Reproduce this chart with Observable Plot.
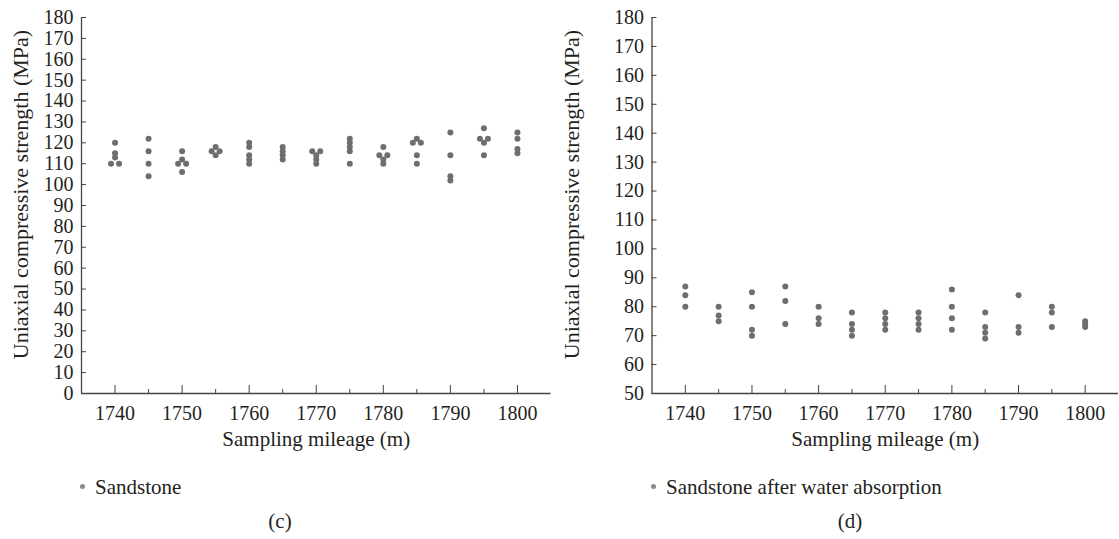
<!DOCTYPE html>
<html>
<head>
<meta charset="utf-8">
<script src="https://cdn.jsdelivr.net/npm/d3@7"></script>
<script src="https://cdn.jsdelivr.net/npm/@observablehq/plot@0.6"></script>
<style>
  html, body { margin: 0; padding: 0; background: #fff; }
  body { width: 1119px; height: 539px; overflow: hidden; font-family: "Liberation Serif", "DejaVu Serif", serif; color: #231f20; }
  #row { display: flex; }
  .panel { position: relative; }
  .legend { position: relative; height: 22px; line-height: 22px; margin-top: 18px; font-size: 21px; }
  .legend .swatch { position: absolute; top: 8px; width: 5px; height: 5px; border-radius: 50%; background: #8a8a8c; }
  .legend .label { position: absolute; top: 0; white-space: nowrap; }
  .caption { position: relative; height: 22px; line-height: 22px; margin-top: 12px; font-size: 21px; }
  .caption span { position: absolute; top: 0; transform: translateX(-50%); }
</style>
</head>
<body>
<div id="row">
  <div class="panel" id="panel-c"></div>
  <div class="panel" id="panel-d"></div>
</div>
<script>
// Sampling positions along the tunnel (m)
const mileage = [1740, 1745, 1750, 1755, 1760, 1765, 1770, 1775, 1780, 1785, 1790, 1795, 1800];

// Uniaxial compressive strength of dry sandstone samples (MPa), one list per mileage
const sandstone = [
  [120, 115, 113, 110, 110],
  [122, 116, 110, 104],
  [116, 112, 110, 110, 106],
  [118, 116, 116, 114],
  [120, 118, 114, 112, 110],
  [118, 116, 114, 112],
  [116, 116, 114, 112, 110],
  [122, 120, 118, 116, 110],
  [118, 114, 114, 112, 110],
  [122, 120, 120, 114, 110],
  [125, 114, 104, 102],
  [127, 122, 122, 120, 114],
  [125, 122, 117, 115]
];

// Uniaxial compressive strength after water absorption (MPa)
const soaked = [
  [87, 84, 80],
  [80, 77, 75],
  [85, 80, 72, 70],
  [87, 82, 74],
  [80, 76, 74],
  [78, 74, 72, 70],
  [78, 76, 74, 72],
  [78, 76, 74, 72],
  [86, 80, 76, 72],
  [78, 73, 71, 69],
  [84, 73, 71],
  [80, 78, 73],
  [75, 74, 73]
];

const xMajor = [1740, 1750, 1760, 1770, 1780, 1790, 1800];
const xMinor = [1745, 1755, 1765, 1775, 1785, 1795];
const yTicksC = d3.range(0, 181, 10);
const yTicksD = d3.range(50, 181, 10);

const xDomain = [1735, 1805];
const dotColor = "#6d6e71";
const inkColor = "#231f20";

// Flatten the per-mileage lists; repeated values in a group are spread
// side by side (centred on the mileage) so every sample stays visible.
function toRows(groups, pxPerUnit) {
  const rows = [];
  const gap = 8 / pxPerUnit;
  groups.forEach((vals, gi) => {
    const counts = d3.rollup(vals, v => v.length, v => v);
    const seen = new Map();
    for (const v of vals) {
      const n = counts.get(v);
      const k = seen.get(v) ?? 0;
      seen.set(v, k + 1);
      rows.push({mileage: mileage[gi], x: mileage[gi] + (k - (n - 1) / 2) * gap, value: v});
    }
  });
  return rows;
}

function panel({groups, yDomain, yTicks, width, marginLeft, marginRight, yTitleDx}) {
  const height = 458, marginTop = 17, marginBottom = 65;
  const pxPerUnit = (width - marginLeft - marginRight) / (xDomain[1] - xDomain[0]);
  const rows = toRows(groups, pxPerUnit);
  return Plot.plot({
    width, height, marginTop, marginBottom, marginLeft, marginRight,
    style: {fontFamily: "'Liberation Serif', 'DejaVu Serif', serif", fontSize: "20px", color: inkColor, background: "#fff", overflow: "visible"},
    x: {domain: xDomain},
    y: {domain: yDomain},
    marks: [
      // inward ticks on the value axis
      Plot.axisY(yTicks, {tickSize: 5, dx: 5, fill: "none", stroke: "#444", label: null}),
      Plot.axisY(yTicks, {tickSize: 0, tickPadding: 8, label: null, tickFormat: "d"}),
      // inward major and minor ticks on the mileage axis
      Plot.axisX(xMajor, {tickSize: 8, dy: -8, fill: "none", stroke: "#444", label: null}),
      Plot.axisX(xMinor, {tickSize: 4, dy: -4, fill: "none", stroke: "#444", label: null}),
      Plot.axisX(xMajor, {tickSize: 0, tickPadding: 12, label: null, tickFormat: "d"}),
      Plot.ruleX([xDomain[0]], {stroke: "#444", strokeWidth: 1.3}),
      Plot.ruleY([yDomain[0]], {stroke: "#444", strokeWidth: 1.3}),
      Plot.text(["Sampling mileage (m)"], {text: d => d, frameAnchor: "bottom", textAnchor: "middle", dy: 52, fontSize: 21, fill: inkColor}),
      Plot.text(["Uniaxial compressive strength (MPa)"], {text: d => d, frameAnchor: "left", textAnchor: "middle", dx: yTitleDx, dy: -11, rotate: -90, fontSize: 22, fill: inkColor}),
      Plot.dot(rows, {x: "x", y: "value", r: 3, fill: dotColor, stroke: null})
    ]
  });
}

function addPanel(id, opts, legendText, captionText, legendLeft, captionCenter) {
  const el = document.getElementById(id);
  el.style.width = opts.width + "px";
  el.appendChild(panel(opts));
  const legend = document.createElement("div");
  legend.className = "legend";
  legend.innerHTML = `<span class="swatch" style="left:${legendLeft}px"></span><span class="label" style="left:${legendLeft + 15}px"></span>`;
  legend.querySelector(".label").textContent = legendText;
  el.appendChild(legend);
  const caption = document.createElement("div");
  caption.className = "caption";
  caption.innerHTML = `<span style="left:${captionCenter}px"></span>`;
  caption.querySelector("span").textContent = captionText;
  el.appendChild(caption);
}

addPanel("panel-c", {groups: sandstone, yDomain: [0, 180], yTicks: yTicksC, width: 560, marginLeft: 81, marginRight: 9.5, yTitleDx: -61},
  "Sandstone", "(c)", 80, 280);
addPanel("panel-d", {groups: soaked, yDomain: [50, 180], yTicks: yTicksD, width: 559, marginLeft: 91.5, marginRight: 1, yTitleDx: -80},
  "Sandstone after water absorption", "(d)", 91, 290);
</script>
</body>
</html>
